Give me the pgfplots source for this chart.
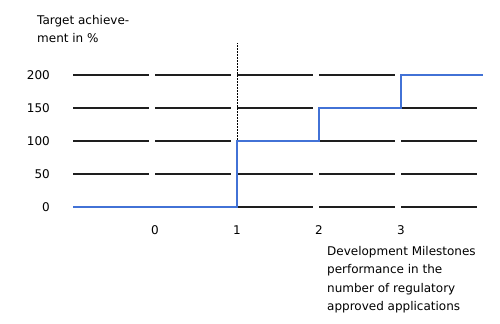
\documentclass[border=0pt]{standalone}
\usepackage{pgfplots}
\pgfplotsset{compat=1.18}
\usepackage{fontspec}
\setmainfont{DejaVu Sans}
\definecolor{stepblue}{RGB}{66,114,214}
\definecolor{gridk}{RGB}{30,30,30}
\begin{document}
\fontsize{12bp}{18.5bp}\selectfont
\begin{tikzpicture}
\begin{axis}[
  at={(0,0)}, anchor=south west,
  scale only axis,
  width=410bp, height=132bp,
  xmin=-1, xmax=4, ymin=0, ymax=200,
  axis lines=none,
  clip=false,
  xtick={0,1,2,3},
  ytick={0,50,100,150,200},
  /pgf/number format/assume math mode=true,
  ticklabel style={font=\fontsize{12bp}{16bp}\selectfont},
]
% dashed horizontal reference lines
\foreach \yy in {0,50,100,150,200}{
  \edef\tmp{\noexpand\addplot[gridk, line width=1.3bp, dash pattern=on 75.5bp off 6.5bp, forget plot] coordinates {(-1,\yy) (4,\yy)};}
  \tmp
}
% tick labels
\foreach \yy in {0,50,100,150,200}{
  \edef\tmp{\noexpand\node[anchor=east] at (axis cs:-1,\yy) [xshift=-19bp] {\yy};}
  \tmp
}
\foreach \xx in {0,1,2,3}{
  \edef\tmp{\noexpand\node[anchor=center] at (axis cs:\xx,0) [yshift=-23bp] {\xx};}
  \tmp
}
% dotted vertical line
\addplot[black, line width=0.5bp, densely dotted, forget plot] coordinates {(1,100) (1,249)};
% step line
\addplot[stepblue, line width=1.8bp, const plot, forget plot] coordinates {
(-1,0) (1,0) (1,100) (2,100) (2,150) (3,150) (3,200) (4,200)};
\end{axis}
\node[anchor=north west, align=left, inner sep=0pt] at (-36bp,192bp) {Target achieve-\\ment in \%};
\node[anchor=north west, align=left, inner sep=0pt] at (254bp,-39bp) {Development Milestones\\performance in the\\number of regulatory\\approved applications};
\pgfresetboundingbox
\path[use as bounding box] (-73bp,-117bp) rectangle (427bp,207bp);
\end{tikzpicture}
\end{document}
